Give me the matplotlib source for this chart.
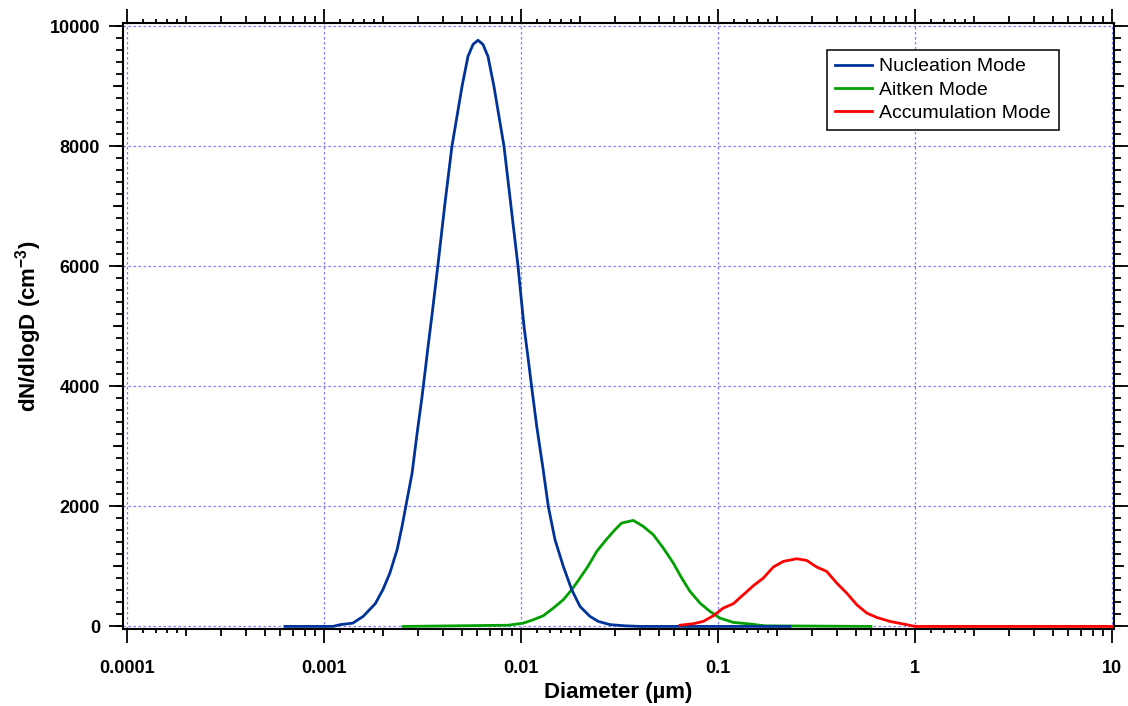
import matplotlib
matplotlib.use("Agg")
import matplotlib.pyplot as plt
from matplotlib.ticker import FixedLocator, MultipleLocator, NullFormatter, NullLocator, FuncFormatter

# diameters in um, dN/dlogD in cm^-3
nuc_d = [0.000634, 0.00111, 0.00121, 0.00140, 0.00158, 0.00182, 0.00199, 0.00216,
         0.00235, 0.00249, 0.00264, 0.00280, 0.00297, 0.00314, 0.00326, 0.00337,
         0.00353, 0.00378, 0.00411, 0.00446, 0.00502, 0.00538, 0.00571, 0.00605,
         0.00641, 0.00680, 0.00729, 0.00820, 0.00890, 0.00966, 0.01000, 0.01036,
         0.01089, 0.01133, 0.01202, 0.01289, 0.01376, 0.01488, 0.01640, 0.01809,
         0.01993, 0.02240, 0.02468, 0.02830, 0.03372, 0.04018, 0.232]
nuc_n = [0, 0, 30, 55, 167, 378, 612, 890,
         1278, 1667, 2112, 2556, 3223, 3810, 4250, 4650,
         5180, 6000, 7045, 8000, 9000, 9500, 9700, 9770,
         9700, 9500, 9000, 8000, 7000, 6000, 5500, 5000,
         4445, 3990, 3333, 2667, 2000, 1445, 1000, 612,
         333, 167, 83, 30, 10, 0, 0]

ait_d = [0.002518, 0.008619, 0.01027, 0.01155, 0.01298, 0.01459, 0.01640, 0.01809,
         0.01993, 0.02196, 0.02423, 0.02723, 0.03000, 0.03245, 0.03716, 0.04176,
         0.04694, 0.05276, 0.05930, 0.06542, 0.07208, 0.08103, 0.09107, 0.1023,
         0.1196, 0.1454, 0.1732, 0.5978]
ait_n = [0, 20, 55, 111, 178, 306, 445, 612,
         806, 1011, 1250, 1456, 1612, 1723, 1767, 1667,
         1528, 1306, 1056, 806, 584, 389, 250, 139,
         67, 40, 10, 0]

acc_d = [0.06413, 0.07492, 0.08419, 0.09465, 0.1063, 0.1196, 0.1344, 0.1511,
         0.1698, 0.1909, 0.2146, 0.2509, 0.2820, 0.3170, 0.3563, 0.4004,
         0.4500, 0.5059, 0.5686, 0.6391, 0.7465, 0.8723, 1.0, 10.0]
acc_n = [20, 45, 84, 178, 306, 378, 528, 678,
         806, 990, 1084, 1128, 1100, 990, 917, 723,
         556, 362, 223, 150, 83, 40, 0, 0]

x_major = [0.0001, 0.001, 0.01, 0.1, 1, 10]
decades = [0.0001, 0.001, 0.01, 0.1, 1]
x_minor = [d * m for d in decades for m in range(2, 10)]
x_sub = [d * m for d in decades for m in (1.2, 1.4, 1.6, 1.8)]

plt.rcParams["font.family"] = ["Liberation Sans", "DejaVu Sans"]
plt.rcParams["mathtext.fontset"] = "custom"
plt.rcParams["mathtext.default"] = "regular"

W, H = 1128, 706
fig = plt.figure(figsize=(W / 100, H / 100), dpi=100)
rect = [123 / W, 1 - 629 / H, (1114 - 123) / W, (629 - 23) / H]
ax = fig.add_axes(rect)

xlim = (10 ** -4.0203, 10 ** 1.0102)
ylim = (-43, 10057)

ax.plot(nuc_d, nuc_n, color="#00339a", lw=2.0, label="Nucleation Mode", zorder=3)
ax.plot(ait_d, ait_n, color="#00a000", lw=2.0, label="Aitken Mode", zorder=2)
ax.plot(acc_d, acc_n, color="#ff0000", lw=2.0, label="Accumulation Mode", zorder=4)

ax.set_xscale("log")
ax.set_xlim(*xlim)
ax.set_ylim(*ylim)

ax.xaxis.set_major_locator(FixedLocator(x_major))
ax.xaxis.set_minor_locator(FixedLocator(x_minor))
ax.xaxis.set_major_formatter(FuncFormatter(lambda v, p: "%g" % v))
ax.xaxis.set_minor_formatter(NullFormatter())
ax.yaxis.set_major_locator(MultipleLocator(2000))
ax.yaxis.set_minor_locator(MultipleLocator(1000))
ax.yaxis.set_major_formatter(FuncFormatter(lambda v, p: "%d" % v))

ax.tick_params(which="both", direction="out", top=True, right=True, width=1.3,
               labelsize=13, colors="black")
ax.tick_params(which="major", length=10)
ax.tick_params(axis="x", which="major", pad=12)
ax.tick_params(axis="y", which="major", pad=6.5)
ax.tick_params(axis="x", which="minor", length=5)
ax.tick_params(axis="y", which="minor", length=7.2)
for lab in ax.get_xticklabels() + ax.get_yticklabels():
    lab.set_fontweight("bold")

for s in ax.spines.values():
    s.set_linewidth(1.5)

ax.grid(which="major", color="#7f7fff", linestyle=(0, (2, 2)), linewidth=0.9)
ax.set_axisbelow(True)

ax.set_xlabel("Diameter (\u00b5m)", fontsize=16, fontweight="bold", labelpad=4)
ax.set_ylabel("dN/dlogD (cm$^{-3}$)", fontsize=16, fontweight="bold", labelpad=4)

# third tick level (small ticks) drawn on a transparent overlay
ax3 = fig.add_axes(rect)
ax3.patch.set_visible(False)
for s in ax3.spines.values():
    s.set_visible(False)
ax3.set_xscale("log")
ax3.set_xlim(*xlim)
ax3.set_ylim(*ylim)
ax3.xaxis.set_major_locator(FixedLocator(x_sub))
ax3.xaxis.set_minor_locator(NullLocator())
ax3.yaxis.set_major_locator(MultipleLocator(200))
ax3.yaxis.set_minor_locator(NullLocator())
ax3.tick_params(direction="out", top=True, right=True, bottom=True, left=True,
                labelbottom=False, labelleft=False, width=1.3)
ax3.tick_params(axis="x", length=2.9)
ax3.tick_params(axis="y", length=5)

leg = ax.legend(loc="upper right", bbox_to_anchor=(1059 / W, 1 - 50 / H),
                bbox_transform=fig.transFigure, fontsize=14, frameon=True,
                fancybox=False, edgecolor="black", framealpha=1, borderaxespad=0,
                handlelength=1.9, handletextpad=0.4, borderpad=0.4, labelspacing=0.3)
leg.get_frame().set_linewidth(1.1)

fig.savefig("out.png", dpi=100)
